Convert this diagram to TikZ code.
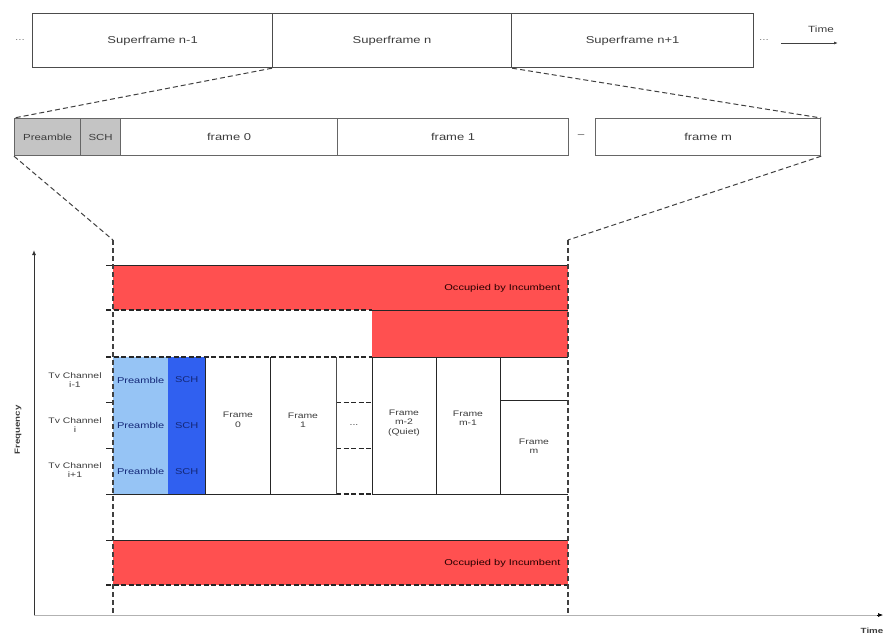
\documentclass[tikz,border=0pt]{standalone}
\usepackage{fontspec}
\setmainfont{Liberation Sans}[FakeStretch=1.3]
\usetikzlibrary{arrows.meta}

\definecolor{incred}{RGB}{255,80,80}
\definecolor{prelight}{RGB}{150,196,245}
\definecolor{schdark}{RGB}{48,96,240}
\definecolor{hdrgray}{RGB}{196,196,196}
\definecolor{txtgray}{RGB}{60,60,60}
\definecolor{navytxt}{RGB}{20,40,120}

\tikzset{
  sfbox/.style={draw=black!70, line width=1.2pt, inner sep=0pt, anchor=north west,
    minimum height=54pt, text=txtgray, font=\fontsize{10}{11}\selectfont},
  hdrcell/.style={draw=black!60, line width=1.2pt, inner sep=0pt, anchor=north west,
    minimum height=37pt, fill=hdrgray, text=txtgray, font=\fontsize{8.8}{10}\selectfont},
  framecell/.style={draw=black!60, line width=1.2pt, inner sep=0pt, anchor=north west,
    minimum height=37pt, text=txtgray, font=\fontsize{10}{11}\selectfont},
  zoomline/.style={draw=black!75, line width=1pt, dash pattern=on 5pt off 3pt},
  gridline/.style={draw=black!85, line width=1pt},
  griddash/.style={draw=black!85, line width=1.2pt, dash pattern=on 5pt off 2.5pt},
  blucell/.style={inner sep=0pt, anchor=north west, minimum height=45.67pt,
    text=navytxt, font=\fontsize{8.5}{9.5}\selectfont},
  celltext/.style={align=center, text=txtgray, font=\fontsize{8}{9.5}\selectfont},
  inctext/.style={anchor=east, text=black!85!red, font=\fontsize{8.5}{9.5}\selectfont},
  chtext/.style={align=center, text=txtgray, font=\fontsize{8}{9.5}\selectfont},
  dotstext/.style={text=black!50, font=\fontsize{9}{10}\selectfont},
}

\begin{document}
\begin{tikzpicture}[x=1pt,y=-1pt]
\useasboundingbox (0,0) rectangle (885,638);

% ---- superframe timeline ----
\node[sfbox, minimum width=240pt] (sfA) at (32,13) {Superframe n-1};
\node[sfbox, minimum width=239pt] (sfB) at (272,13) {Superframe n};
\node[sfbox, minimum width=242pt] (sfC) at (511,13) {Superframe n+1};
\node[dotstext] (dotsL) at (20,40) {...};
\node[dotstext] (dotsR) at (764,40) {...};
\node[text=txtgray, font=\fontsize{9}{10}\selectfont] (timeT) at (821,29) {Time};
\coordinate (tarrA) at (781,43);
\coordinate (tarrB) at (838,43);
\draw[black!75, line width=0.8pt, -{Latex[length=4pt,width=3pt]}] (tarrA) -- (tarrB);

% ---- superframe n expanded ----
\node[hdrcell, minimum width=66pt] (hpre) at (14,118) {Preamble};
\node[hdrcell, minimum width=40pt] (hsch) at (80,118) {SCH};
\node[framecell, minimum width=217pt] (hf0) at (120,118) {frame 0};
\node[framecell, minimum width=231pt] (hf1) at (337,118) {frame 1};
\node[text=txtgray, font=\fontsize{9}{10}\selectfont] (hgap) at (581,136) {--};
\node[framecell, minimum width=225pt] (hfm) at (595,118) {frame m};

% zoom guides
\coordinate (lTop) at (113,240);
\coordinate (lBot) at (113,615);
\coordinate (rTop) at (568,240);
\coordinate (rBot) at (568,615);
\draw[zoomline] (sfB.south west) -- (hpre.north west);
\draw[zoomline] (sfB.south east) -- (hfm.north east);
\draw[zoomline] (hpre.south west) -- (lTop);
\draw[zoomline] (hfm.south east) -- (rTop);

% ---- time/frequency plane ----
\fill[incred] (113,265) rectangle (568,310);
\fill[incred] (372,310) rectangle (568,357);
\fill[incred] (113,540) rectangle (568,585);
\node[inctext] (inc1) at (564,288) {Occupied by Incumbent};
\node[inctext] (inc2) at (564,563) {Occupied by Incumbent};

% preamble and SCH columns, one cell per TV channel
\node[blucell, fill=prelight, minimum width=55pt] (pA) at (113,357) {Preamble};
\node[blucell, fill=prelight, minimum width=55pt] (pB) at (113,402.67) {Preamble};
\node[blucell, fill=prelight, minimum width=55pt] (pC) at (113,448.33) {Preamble};
\node[blucell, fill=schdark, minimum width=37pt] (sA) at (168,357) {SCH};
\node[blucell, fill=schdark, minimum width=37pt] (sB) at (168,402.67) {SCH};
\node[blucell, fill=schdark, minimum width=37pt] (sC) at (168,448.33) {SCH};

% frame labels
\node[celltext] (fr0) at (238,420) {Frame\\0};
\node[celltext] (fr1) at (303,420) {Frame\\1};
\node[celltext] (frdots) at (354,425) {...};
\node[celltext] (frq) at (404,423) {Frame\\m-2\\(Quiet)};
\node[celltext] (frm1) at (468,418) {Frame\\m-1};
\node[celltext] (frm) at (534,446) {Frame\\m};

% horizontal grid lines with ticks
\draw[gridline] (106,265) -- (568,265);
\draw[griddash] (106,310) -- (372,310);
\draw[gridline] (372,310) -- (568,310);
\draw[griddash] (106,357) -- (372,357);
\draw[gridline] (372,357) -- (568,357);
\draw[gridline] (106,402.67) -- (113,402.67);
\draw[gridline] (106,448.33) -- (113,448.33);
\draw[griddash] (336,402.67) -- (372,402.67);
\draw[griddash] (336,448.33) -- (372,448.33);
\draw[gridline] (106,494) -- (336,494);
\draw[griddash] (336,494) -- (372,494);
\draw[gridline] (372,494) -- (568,494);
\draw[gridline] (106,540) -- (568,540);
\draw[griddash] (106,585) -- (568,585);

% frame boundaries
\draw[gridline] (205,357) -- (205,494);
\draw[gridline] (270,357) -- (270,494);
\draw[black!70, line width=0.8pt] (336,357) -- (336,494);
\draw[gridline] (372,357) -- (372,494);
\draw[gridline] (436,357) -- (436,494);
\draw[gridline] (500,357) -- (500,494);
\draw[gridline] (500,400) -- (568,400);

% band edges
\draw[zoomline, line width=1.2pt] (lTop) -- (lBot);
\draw[zoomline, line width=1.2pt] (rTop) -- (rBot);

% channel labels
\node[chtext] (chA) at (75,380) {Tv Channel\\i-1};
\node[chtext] (chB) at (75,425) {Tv Channel\\i};
\node[chtext] (chC) at (75,470) {Tv Channel\\i+1};

% axes
\coordinate (origin) at (34,615);
\coordinate (fTip) at (34,250);
\coordinate (tTip) at (883,615);
\draw[black!80, line width=1pt, -{Latex[length=5pt,width=4pt]}] (origin) -- (fTip);
\draw[black!30, line width=1pt] (origin) -- (878,615);
\draw[black, -{Latex[length=5pt,width=4pt]}, line width=0.6pt] (877,615) -- (tTip);
\node[rotate=90, text=txtgray, font=\bfseries\fontsize{7.5}{9}\selectfont] (freqL) at (18,430) {Frequency};
\node[text=txtgray, font=\bfseries\fontsize{7.5}{9}\selectfont] (timeL) at (872,631) {Time};
\end{tikzpicture}
\end{document}
